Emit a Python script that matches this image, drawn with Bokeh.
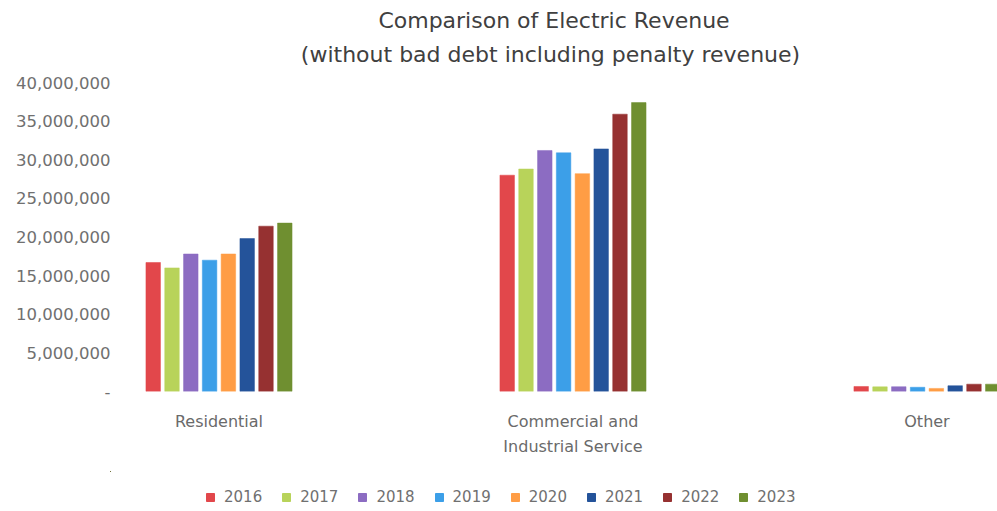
from bokeh.plotting import figure
from bokeh.layouts import column
from bokeh.models import (ColumnDataSource, Range1d, FixedTicker, SingleIntervalTicker,
                          NumeralTickFormatter, Legend, LegendItem, Title, LinearAxis)
from bokeh.transform import dodge
from bokeh.embed import file_html
from bokeh.resources import INLINE

categories = ["Residential", "Commercial and\nIndustrial Service", "Other"]
years = ["2016", "2017", "2018", "2019", "2020", "2021", "2022", "2023"]
residential = [16.7e6, 16.0e6, 17.8e6, 17.0e6, 17.8e6, 19.8e6, 21.4e6, 21.8e6]
commercial = [28.0e6, 28.8e6, 31.2e6, 30.9e6, 28.2e6, 31.4e6, 35.9e6, 37.4e6]
other = [0.65e6, 0.6e6, 0.62e6, 0.55e6, 0.4e6, 0.75e6, 0.95e6, 0.95e6]
colors = ["#E2474B", "#B8D35A", "#8C6CC2", "#3C9FE8", "#FF9D45", "#24539A", "#963131", "#6F8F30"]
title_lines = ["Comparison of Electric Revenue", "(without  bad debt including penalty revenue)"]

FONT = "DejaVu Sans"

data = {"xi": list(range(len(categories)))}
for j, y in enumerate(years):
    data[y] = [residential[j], commercial[j], other[j]]
source = ColumnDataSource(data)

p = figure(width=997, height=471, output_backend="svg", toolbar_location=None,
           x_range=Range1d(-0.3065, 2.1992), y_range=Range1d(0, 40e6),
           min_border_left=110, min_border_right=0, min_border_top=81, min_border_bottom=80)
p.outline_line_color = None
p.xgrid.visible = False
p.ygrid.visible = False
p.background_fill_color = "white"
p.border_fill_color = "white"

pitch = 0.0531
width = 0.041
for j, y in enumerate(years):
    p.vbar(x=dodge("xi", (j - 3.5) * pitch), top=y, width=width, source=source,
           fill_color=colors[j], line_color=colors[j], line_width=0.5)

# bottom (category) axis
xa = p.below[0]
xa.ticker = FixedTicker(ticks=list(range(len(categories))))
xa.major_label_overrides = {i: c for i, c in enumerate(categories)}
xa.axis_line_color = None
xa.major_tick_line_color = None
xa.minor_tick_line_color = None
xa.major_tick_out = 0
xa.major_tick_in = 0
xa.minor_tick_out = 0
xa.minor_tick_in = 0
xa.major_label_text_font = FONT
xa.major_label_text_font_size = "16px"
xa.major_label_text_color = "#6a6a6a"
xa.major_label_text_line_height = 1.34
xa.major_label_standoff = 20

# y axis
ya = p.left[0]
ya.ticker = SingleIntervalTicker(interval=5e6)
ya.formatter = NumeralTickFormatter(format="0,0")
ya.major_label_overrides = {0: "-"}
ya.axis_line_color = None
ya.major_tick_line_color = None
ya.minor_tick_line_color = None
ya.major_tick_out = 0
ya.major_tick_in = 0
ya.minor_tick_out = 0
ya.minor_tick_in = 0
ya.major_label_text_font = FONT
ya.major_label_text_font_size = "16.5px"
ya.major_label_text_color = "#707070"
ya.major_label_standoff = 0

# second title line: label of an empty axis above the frame (centred line)
top_axis = LinearAxis(ticker=FixedTicker(ticks=[]), axis_label=title_lines[1],
                      axis_line_color=None, major_tick_line_color=None,
                      minor_tick_line_color=None, major_tick_out=0, major_tick_in=0,
                      minor_tick_out=0, minor_tick_in=0, major_label_standoff=0,
                      axis_label_standoff=16, axis_label_text_font=FONT,
                      axis_label_text_font_size="22px", axis_label_text_font_style="normal",
                      axis_label_text_color="#404040")
p.add_layout(top_axis, "above")

# first title line
p.title.visible = False
t = Title(text=title_lines[0], align="center", text_font=FONT, text_font_size="22px",
          text_font_style="normal", text_color="#404040", standoff=11)
p.add_layout(t, "above")

# legend strip below the chart (its renderers lie outside its visible ranges)
lg = figure(width=997, height=40, output_backend="svg", toolbar_location=None,
            x_range=Range1d(10, 11), y_range=Range1d(-2e6, -1e6),
            x_axis_location=None, y_axis_location=None,
            min_border_left=0, min_border_right=0, min_border_top=0, min_border_bottom=0)
lg.outline_line_color = None
lg.xgrid.visible = False
lg.ygrid.visible = False
items = []
for j, y in enumerate(years):
    r = lg.vbar(x="xi", top=y, width=0.01, source=source,
                fill_color=colors[j], line_color=colors[j])
    items.append(LegendItem(label=y, renderers=[r]))
legend = Legend(items=items, orientation="horizontal", location=(95, 5))
legend.label_text_font = FONT
legend.label_text_font_size = "15px"
legend.label_text_color = "#707070"
legend.glyph_width = 10
legend.glyph_height = 10
legend.label_standoff = 9
legend.spacing = 19
legend.border_line_color = None
legend.background_fill_alpha = 0
legend.padding = 4
legend.margin = 0
lg.add_layout(legend, "center")

layout = column(p, lg, spacing=0)
open("out.html", "w").write(file_html(layout, INLINE))
